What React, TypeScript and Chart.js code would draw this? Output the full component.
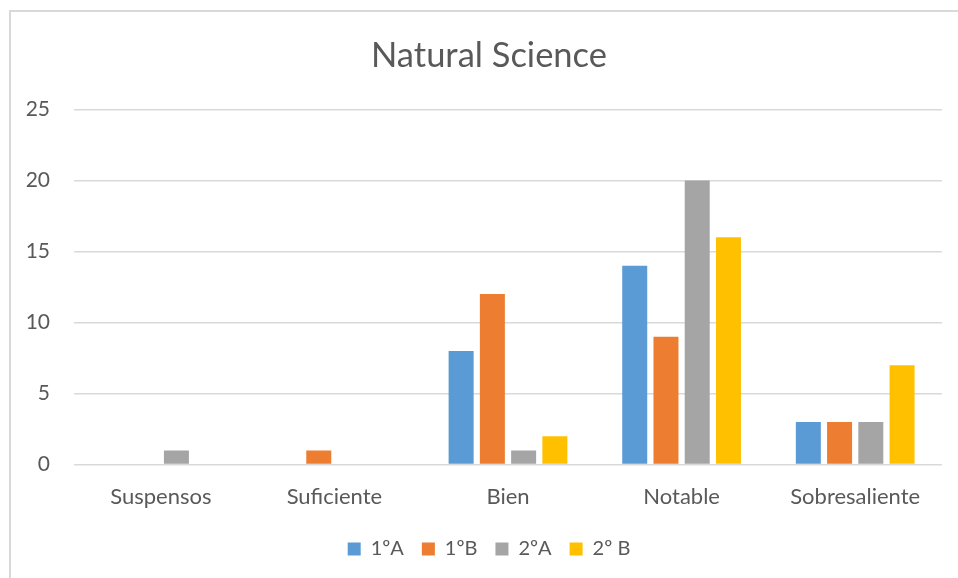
import React, { useEffect, useRef } from "react";
import { Chart, registerables } from "chart.js";

Chart.register(...registerables);

const categories = ["Suspensos", "Suficiente", "Bien", "Notable", "Sobresaliente"];
const seriesNames = ["1ºA", "1ºB", "2ºA", "2º B"];
const s1A = [0, 0, 8, 14, 3];
const s1B = [0, 1, 12, 9, 3];
const s2A = [1, 0, 1, 20, 3];
const s2B = [0, 0, 2, 16, 7];
const seriesColors = ["#5B9BD5", "#ED7D31", "#A5A5A5", "#FFC000"];
const yTicks = [0, 5, 10, 15, 20, 25];

const FONT = "Lato, 'Open Sans', sans-serif";
const TEXT = "#595959";

export default function App() {
  const ref = useRef<HTMLCanvasElement | null>(null);

  useEffect(() => {
    document.body.style.margin = "0";
    const values = [s1A, s1B, s2A, s2B];
    const chart = new Chart(ref.current as HTMLCanvasElement, {
      type: "bar",
      data: {
        labels: categories,
        datasets: seriesNames.map((name, i) => ({
          label: name,
          data: values[i],
          backgroundColor: seriesColors[i],
          borderWidth: 0,
          categoryPercentage: 0.72,
          barPercentage: 0.8,
        })),
      },
      options: {
        animation: false,
        responsive: false,
        maintainAspectRatio: false,
        layout: { padding: { left: 0, right: 0, top: 0, bottom: 19 } },
        plugins: {
          title: {
            display: true,
            text: "Natural Science",
            color: TEXT,
            font: { family: FONT, size: 34.5, weight: "normal" },
            padding: { top: 23, bottom: 33 },
          },
          legend: {
            position: "bottom",
            labels: {
              color: TEXT,
              font: { family: FONT, size: 20 },
              boxWidth: 13,
              boxHeight: 13,
              padding: 18,
            },
          },
          tooltip: { enabled: false },
        },
        scales: {
          x: {
            grid: { display: false },
            border: { display: false },
            ticks: { color: TEXT, font: { family: FONT, size: 22 }, padding: 11 },
          },
          y: {
            min: 0,
            max: 25,
            afterBuildTicks: (scale: any) => {
              scale.ticks = yTicks.map((v) => ({ value: v }));
            },
            afterFit: (scale: any) => {
              scale.width = 63;
            },
            grid: { color: "#D9D9D9", lineWidth: 1.5, drawTicks: false },
            border: { display: false },
            ticks: { color: TEXT, font: { family: FONT, size: 21 }, padding: 24 },
          },
          yRightSpace: {
            position: "right",
            min: 0,
            max: 25,
            grid: { display: false },
            border: { display: false },
            ticks: { display: false },
            afterFit: (scale: any) => {
              scale.width = 25;
            },
          },
        },
      },
    });
    return () => chart.destroy();
  }, []);

  return (
    <div
      style={{
        position: "absolute",
        left: 9,
        top: 10,
        width: 960,
        height: 580,
        border: "2px solid #D9D9D9",
        boxSizing: "border-box",
        background: "#fff",
      }}
    >
      <canvas ref={ref} width={956} height={576} style={{ display: "block" }} />
    </div>
  );
}
